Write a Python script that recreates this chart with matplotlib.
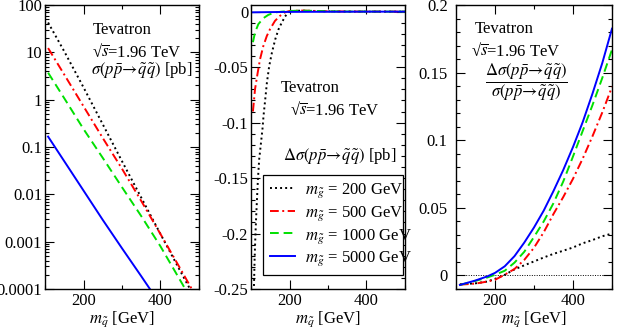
import matplotlib
matplotlib.use("Agg")
import matplotlib.pyplot as plt
from matplotlib.ticker import FixedLocator, FixedFormatter, MultipleLocator, LogLocator, NullFormatter
import numpy as np

plt.rcParams['font.family'] = ['Liberation Serif', 'DejaVu Serif']
plt.rcParams['mathtext.fontset'] = 'stix'
plt.rcParams['axes.unicode_minus'] = False
plt.rcParams['font.size'] = 12

# ---------------- data ----------------
legend_labels = [r"$m_{\tilde{g}}$ = 200 GeV", r"$m_{\tilde{g}}$ = 500 GeV",
                 r"$m_{\tilde{g}}$ = 1000 GeV", r"$m_{\tilde{g}}$ = 5000 GeV"]

# Panel 1: log10 of sigma [pb]
m1 = [108, 150, 200, 250, 300, 350, 400, 450, 500]
log_sig_200 = [1.63, 1.02, 0.26, -0.52, -1.30, -2.07, -2.84, -3.60, -4.35]
log_sig_500 = [1.09, 0.53, -0.14, -0.81, -1.46, -2.14, -2.84, -3.55, -4.27]
log_sig_1000 = [0.57, 0.03, -0.62, -1.23, -1.85, -2.46, -3.10, -3.80, -4.50]
log_sig_5000 = [-0.78, -1.30, -1.92, -2.54, -3.14, -3.73, -4.33, -4.90, -5.50]

# Panel 2: delta sigma [pb]
m2_200 = [104, 107.8, 109.3, 111, 113, 115.4, 118, 121.3, 126, 130, 132.5, 137, 141.3,
          147.3, 154.3, 162.9, 171.4, 180, 188.6, 197, 210, 230, 260, 300, 350, 500]
dsig_200 = [-0.27, -0.246, -0.224, -0.206, -0.188, -0.170, -0.151, -0.133, -0.118, -0.105,
            -0.094, -0.079, -0.064, -0.049, -0.037, -0.025, -0.016, -0.0098, -0.0043,
            -0.0005, 0.0006, 0.0009, 0.0006, 0.0003, 0.0001, 0.0]
m2_500 = [105, 110.4, 117.4, 123.4, 132, 141, 149.4, 162.3, 175.3, 188, 200, 230, 260,
          300, 350, 500]
dsig_500 = [-0.090, -0.070, -0.055, -0.043, -0.031, -0.022, -0.0158, -0.0083, -0.0038,
            -0.0007, 0.0006, 0.0010, 0.0007, 0.0003, 0.0001, 0.0]
m2_1000 = [105, 110.4, 119, 132, 145, 162, 180, 200, 230, 260, 300, 350, 500]
dsig_1000 = [-0.0275, -0.0188, -0.0113, -0.0059, -0.0029, -0.0007, 0.0, 0.0006, 0.0009,
             0.0007, 0.0003, 0.0001, 0.0]
m2_5000 = [105, 150, 200, 300, 400, 500]
dsig_5000 = [-0.0006, -0.0004, -0.0002, -0.0001, 0.0, 0.0]

# Panel 3: delta sigma / sigma
m3 = [110, 150, 180, 200, 225, 250, 275, 300, 325, 350, 375, 400, 425, 450, 475, 500]
ratio_200 = [-0.0065, -0.0058, -0.0045, -0.0025, 0.0005, 0.0045, 0.0075, 0.0104, 0.0133,
             0.0160, 0.0183, 0.0207, 0.0238, 0.0262, 0.0290, 0.0310]
ratio_500 = [-0.0068, -0.0060, -0.0045, -0.0032, 0.0006, 0.0048, 0.0115, 0.0205, 0.0320,
             0.0455, 0.0580, 0.0715, 0.0865, 0.1030, 0.1205, 0.1395]
ratio_1000 = [-0.0070, -0.0040, -0.0015, 0.0005, 0.0035, 0.0095, 0.0175, 0.0285, 0.0400,
              0.0535, 0.0695, 0.0880, 0.1070, 0.1260, 0.1460, 0.1670]
ratio_5000 = [-0.0070, -0.0037, -0.0007, 0.0019, 0.0068, 0.0143, 0.0243, 0.0355, 0.0480,
              0.0625, 0.0780, 0.0950, 0.1135, 0.1345, 0.1570, 0.1825]

ytick1_vals = [1e2, 1e1, 1e0, 1e-1, 1e-2, 1e-3, 1e-4]
ytick1_labels = ["100", "10", "1", "0.1", "0.01", "0.001", "0.0001"]
ytick2_vals = [0, -0.05, -0.1, -0.15, -0.2, -0.25]
ytick2_labels = ["0", "-0.05", "-0.1", "-0.15", "-0.2", "-0.25"]
ytick3_vals = [0, 0.05, 0.1, 0.15, 0.2]
ytick3_labels = ["0", "0.05", "0.1", "0.15", "0.2"]

# ---------------- styles ----------------
colors = ['black', '#ff0000', '#00e000', '#0000ff']
lw = 1.4
styles = [(0, (1, 1.6)), (0, (4.5, 1.8, 1, 1.8)), (0, (4.5, 2.5)), '-']

W, H = 627, 330
fig = plt.figure(figsize=(W / 100, H / 100), dpi=100)

def ax_rect(x0, x1, y0, y1):
    return [x0 / W, 1 - y1 / H, (x1 - x0) / W, (y1 - y0) / H]

ax1 = fig.add_axes(ax_rect(45, 199, 5, 289))
ax2 = fig.add_axes(ax_rect(251, 405, 5, 289))
ax3 = fig.add_axes(ax_rect(456, 612, 5, 289))

for ax in (ax1, ax2, ax3):
    ax.set_xlim(100, 500)
    ax.xaxis.set_major_locator(FixedLocator([200, 400]))
    ax.xaxis.set_minor_locator(FixedLocator([100, 300, 500]))
    ax.tick_params(which='both', direction='in', top=True, right=True, width=0.8)
    ax.tick_params(which='major', length=6.5, pad=3, labelsize=12)
    ax.tick_params(which='minor', length=3.2)
    for s in ax.spines.values():
        s.set_linewidth(1.0)
    ax.set_xlabel(r"$m_{\tilde{q}}$ [GeV]", fontsize=12, labelpad=0)

sqrt_text = "√" + r"$\overline{s}$" + "=1.96 TeV"

# Panel 1
p1 = [log_sig_200, log_sig_500, log_sig_1000, log_sig_5000]
for vals, c, ls in zip(p1, colors, styles):
    ax1.plot(m1, [10 ** v for v in vals], color=c, linestyle=ls, lw=lw)
ax1.set_yscale('log')
ax1.set_ylim(1e-4, 100)
ax1.yaxis.set_major_locator(FixedLocator(ytick1_vals))
ax1.yaxis.set_major_formatter(FixedFormatter(ytick1_labels))
ax1.yaxis.set_minor_locator(LogLocator(base=10, subs=np.arange(2, 10)))
ax1.yaxis.set_minor_formatter(NullFormatter())
ax1.tick_params(axis='y', which='major', pad=2)
ax1.text(0.50, 0.912, "Tevatron", transform=ax1.transAxes, ha='center', va='center')
ax1.text(0.597, 0.835, sqrt_text, transform=ax1.transAxes, ha='center', va='center')
ax1.text(0.63, 0.768, r"$\sigma(p\bar{p}\!\rightarrow\!\tilde{q}\tilde{q})$ [pb]",
         transform=ax1.transAxes, ha='center', va='center')

# Panel 2
p2 = [(m2_200, dsig_200), (m2_500, dsig_500), (m2_1000, dsig_1000), (m2_5000, dsig_5000)]
handles = []
for (mx, vals), c, ls, lab in zip(p2, colors, styles, legend_labels):
    h, = ax2.plot(mx, vals, color=c, linestyle=ls, lw=lw, label=lab)
    handles.append(h)
ax2.set_ylim(-0.25, 0.006)
ax2.yaxis.set_major_locator(FixedLocator(ytick2_vals))
ax2.yaxis.set_major_formatter(FixedFormatter(ytick2_labels))
ax2.yaxis.set_minor_locator(MultipleLocator(0.01))
ax2.tick_params(axis='y', which='major', pad=2)
ax2.text(0.386, 0.708, "Tevatron", transform=ax2.transAxes, ha='center', va='center')
ax2.text(0.542, 0.63, sqrt_text, transform=ax2.transAxes, ha='center', va='center')
ax2.text(0.578, 0.465, r"$\Delta\sigma(p\bar{p}\!\rightarrow\!\tilde{q}\tilde{q})$ [pb]",
         transform=ax2.transAxes, ha='center', va='center')
leg = ax2.legend(handles=handles, loc='lower left', bbox_to_anchor=(0.078, 0.049, 0.909, 0.36),
                 mode='expand', fontsize=12, frameon=True, fancybox=False, framealpha=1,
                 edgecolor='black', handlelength=1.5, handletextpad=0.6, labelspacing=0.25,
                 borderpad=0.4, borderaxespad=0)
leg.get_frame().set_linewidth(0.9)

# Panel 3
p3 = [ratio_200, ratio_500, ratio_1000, ratio_5000]
ax3.axhline(0, color='black', lw=0.7, linestyle=(0, (1, 1.5)))
for vals, c, ls in zip(p3, colors, styles):
    ax3.plot(m3, vals, color=c, linestyle=ls, lw=lw)
ax3.set_ylim(-0.01, 0.2)
ax3.yaxis.set_major_locator(FixedLocator(ytick3_vals))
ax3.yaxis.set_major_formatter(FixedFormatter(ytick3_labels))
ax3.yaxis.set_minor_locator(MultipleLocator(0.01))
ax3.tick_params(axis='y', which='major', pad=6)
ax3.text(0.306, 0.914, "Tevatron", transform=ax3.transAxes, ha='center', va='center')
ax3.text(0.382, 0.838, sqrt_text, transform=ax3.transAxes, ha='center', va='center')
ax3.text(0.449, 0.729,
         r"$\dfrac{\Delta\sigma(p\bar{p}\!\rightarrow\!\tilde{q}\tilde{q})}{\sigma(p\bar{p}\!\rightarrow\!\tilde{q}\tilde{q})}$",
         transform=ax3.transAxes, ha='center', va='center')

fig.savefig("out.png", dpi=100)
